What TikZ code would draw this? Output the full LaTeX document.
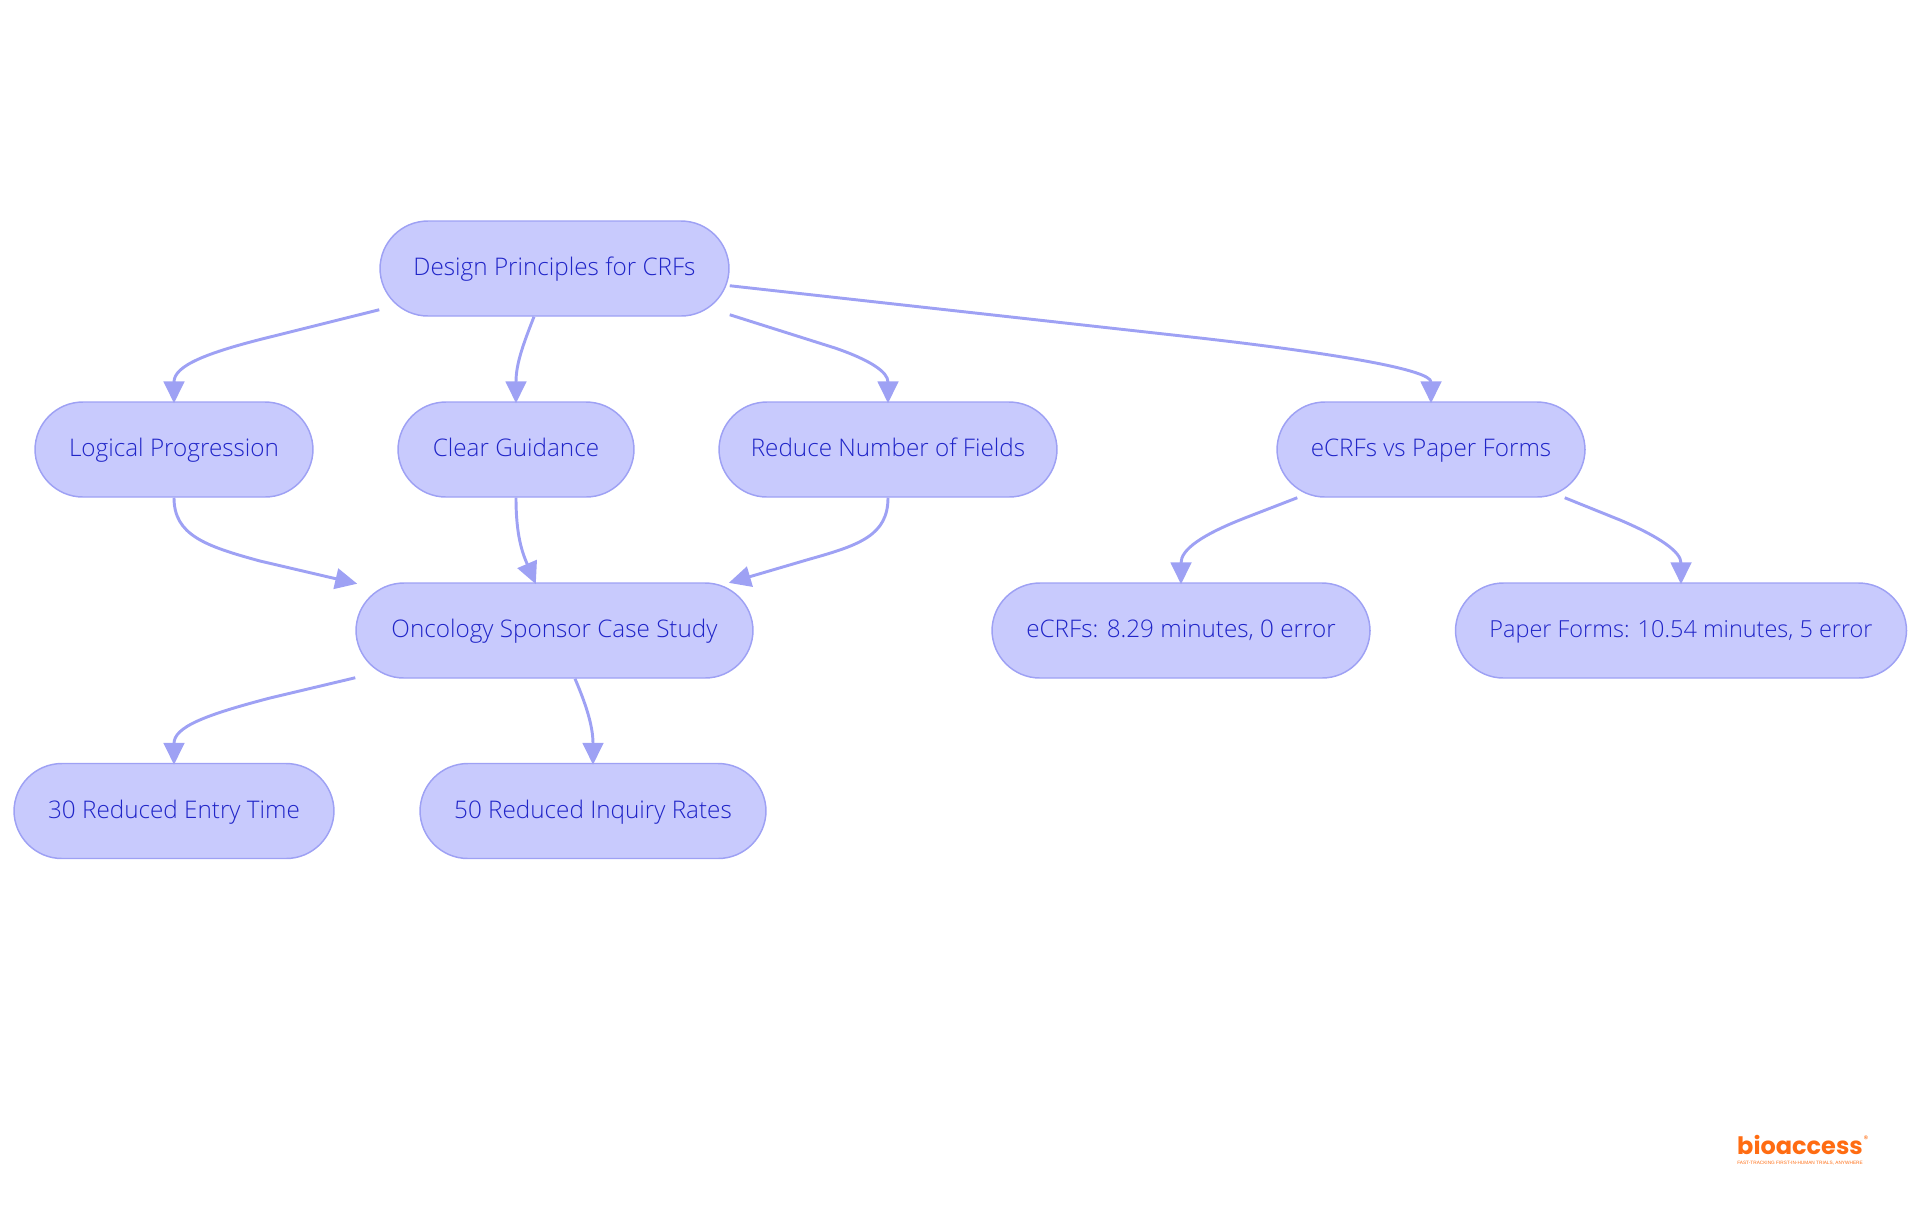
\documentclass[tikz,border=0pt]{standalone}
\usepackage{fontspec}
\setmainfont{Open Sans}[UprightFont=* Light]
\newfontfamily\logofont{Poppins}
\newfontfamily\tagfont{Liberation Sans}
\usetikzlibrary{arrows.meta,calc}
\definecolor{nodefill}{HTML}{C8CAFD}
\definecolor{edgecol}{HTML}{9EA1F4}
\definecolor{textcol}{HTML}{2025C8}
\definecolor{logocol}{HTML}{FF6C12}
\tikzset{
  box/.style={draw=edgecol,fill=nodefill,line width=1.1pt,rounded corners=36pt,
    minimum height=95*0.75pt,inner sep=0pt,text=textcol,text height=14.5pt,text depth=4pt,
    font=\fontsize{18.2pt}{20pt}\selectfont},
  edge/.style={draw=edgecol,line width=2.2pt,shorten >=-1.5pt,-{Triangle[length=16.5pt,width=15.5pt,fill=edgecol]}},
}
\begin{document}
\begin{tikzpicture}[x=0.75pt,y=-0.75pt]
\useasboundingbox (0,0) rectangle (1920,1215);
\node[box,minimum width=349*0.75pt] (d) at (554.5,268.5) {Design Principles for CRFs};
\node[box,minimum width=278*0.75pt] (l) at (174,449.5) {Logical Progression};
\node[box,minimum width=236*0.75pt] (c) at (516,449.5) {Clear Guidance};
\node[box,minimum width=338*0.75pt] (r) at (888,449.5) {Reduce Number of Fields};
\node[box,minimum width=308*0.75pt] (v) at (1431,449.5) {eCRFs vs Paper Forms};
\node[box,minimum width=397*0.75pt] (o) at (554.5,630.5) {Oncology Sponsor Case Study};
\node[box,minimum width=378*0.75pt] (e) at (1181,630.5) {eCRFs: 8.29 minutes, 0 error};
\node[box,minimum width=451*0.75pt,font=\fontsize{17.6pt}{20pt}\selectfont] (p) at (1681,630.5) {Paper Forms: 10.54 minutes, 5 error};
\node[box,minimum width=320*0.75pt] (t) at (174,811) {30 Reduced Entry Time};
\node[box,minimum width=346*0.75pt] (f) at (593,811) {50 Reduced Inquiry Rates};
\draw[edge] ($(d.south west)+(0,-7)$) -- (270,337) .. controls (205,353) and (174,366) .. (l.north);
\draw[edge] ($(d.south)+(-20.5,0)$) .. controls (522,347) and (516,365) .. (c.north);
\draw[edge] ($(d.south east)+(0,-2)$) -- (835,348) .. controls (870,360) and (888,372) .. (r.north);
\draw[edge] ($(d.south east)+(0,-31)$) -- (1200,338) .. controls (1340,354) and (1431,370) .. (v.north);
\draw[edge] (l.south) .. controls (174,535) and (205,546) .. (260,561) -- ($(o.north west)+(0,1)$);
\draw[edge] (c.south) .. controls (516,535) and (522,552) .. ($(o.north)+(-19.5,0)$);
\draw[edge] (r.south) .. controls (888,535) and (860,545) .. (810,559) -- ($(o.north east)+(-23,0)$);
\draw[edge] ($(v.south west)+(21,0)$) -- (1250,516) .. controls (1200,535) and (1181,550) .. (e.north);
\draw[edge] ($(v.south east)+(-21,0)$) -- (1620,520) .. controls (1660,537) and (1681,552) .. (p.north);
\draw[edge] ($(o.south west)+(0,-1)$) -- (270,698) .. controls (205,715) and (174,727) .. (t.north);
\draw[edge] ($(o.south)+(20.5,0)$) .. controls (585,702) and (593,725) .. (f.north);
\node[inner sep=0pt,text=logocol,font=\logofont\bfseries\fontsize{18pt}{19pt}\selectfont] (logo) at (1800,1145) {bioaccess};
\node[inner sep=0pt,text=logocol,font=\logofont\fontsize{7pt}{8pt}\selectfont] (reg) at (1866,1139) {®};
\node[inner sep=0pt,text=logocol,font=\tagfont\fontsize{3.55pt}{4pt}\selectfont] (tag) at (1800,1163) {FAST-TRACKING FIRST-IN-HUMAN TRIALS, ANYWHERE};
\end{tikzpicture}
\end{document}
